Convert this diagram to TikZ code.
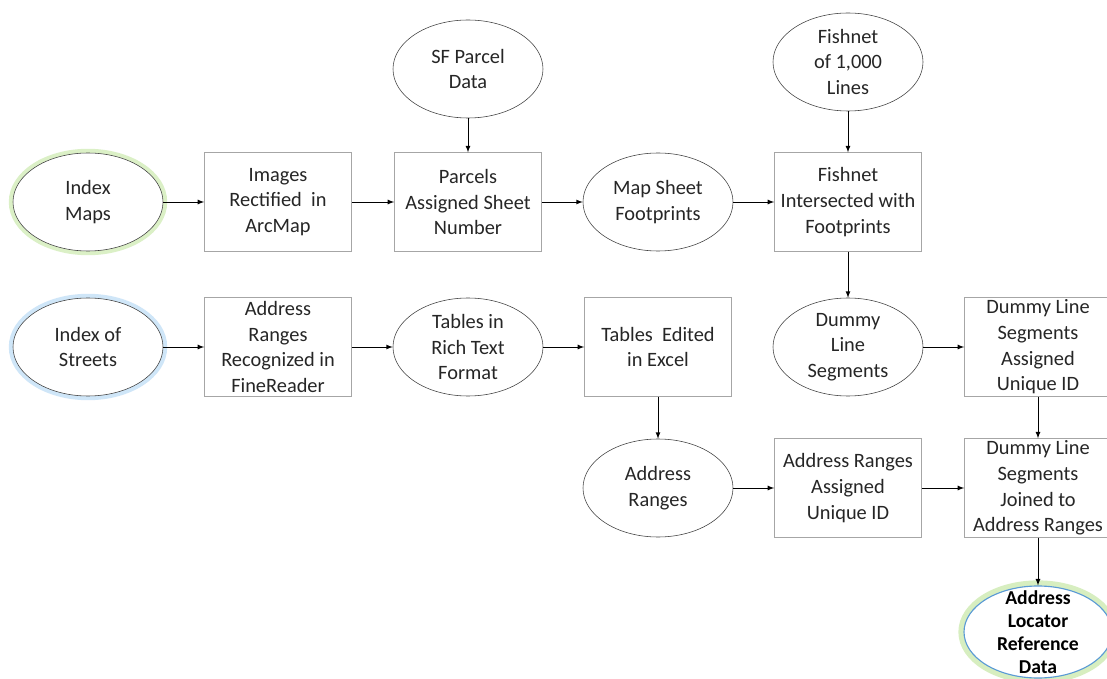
\documentclass[tikz,border=0pt]{standalone}
\usepackage{fontspec}
\setmainfont{Carlito}
\usetikzlibrary{arrows, shapes, positioning}

\definecolor{glowgreen}{RGB}{176,222,130}
\definecolor{glowblue}{RGB}{150,200,240}
\definecolor{locblue}{RGB}{91,155,213}

\begin{document}
\begin{tikzpicture}[node distance=4.75cm,
        box/.style={draw=black!35, rectangle, minimum width=3.68cm, minimum height=2.47cm, inner sep=1pt, align=center, text=black!85, font=\fontsize{14.5}{18.3}\selectfont},
        blob/.style={draw=black!75, fill=white, ellipse, minimum width=3.75cm, minimum height=2.45cm, inner sep=0pt, align=center, text=black!85, font=\fontsize{14.5}{18.3}\selectfont},
        greenglow/.style={preaction={draw=glowgreen, line width=6pt, opacity=0.45}},
        blueglow/.style={preaction={draw=glowblue, line width=6pt, opacity=0.45}},
        flow/.style={-latex, line width=0.6pt}]
        \path[use as bounding box, fill=white] (-2.2,5.05) rectangle (25.475,-11.925);

        % first chain
        \node[blob, greenglow] (IM) {Index\\Maps};
        \node[box, right of=IM] (IR) {Images\\Rectified\ \ in\\ArcMap};
        \node[box, right of=IR] (PA) {Parcels\\Assigned Sheet\\Number};
        \node[blob, right of=PA] (MS) {Map Sheet\\Footprints};
        \node[box, right of=MS] (FI) {Fishnet\\Intersected with\\Footprints};
        \node[blob, above of=PA, node distance=3.325cm] (SF) {SF Parcel\\Data};
        \node[blob, above of=FI, node distance=3.5cm] (FN) {Fishnet\\of 1,000\\Lines};

        % second chain
        \node[blob, blueglow, below of=IM, node distance=3.625cm] (IS) {Index of\\Streets};
        \node[box, right of=IS] (AR) {Address\\Ranges\\Recognized in\\FineReader};
        \node[blob, right of=AR] (TR) {Tables in\\Rich Text\\Format};
        \node[box, right of=TR] (TE) {Tables\ \ Edited\\in Excel};
        \node[blob, right of=TE] (DL) {Dummy\\Line\\Segments};
        \node[box, right of=DL] (DA) {Dummy Line\\Segments\\Assigned\\Unique ID};

        % joining
        \node[blob, below of=TE, node distance=3.525cm] (AD) {Address\\Ranges};
        \node[box, right of=AD] (AU) {Address Ranges\\Assigned\\Unique ID};
        \node[box, right of=AU] (DJ) {Dummy Line\\Segments\\Joined to\\Address Ranges};
        \node[ellipse, draw=locblue, fill=white, line width=0.8pt, minimum width=3.7cm, minimum height=2.3cm, preaction={draw=glowgreen, line width=8pt, opacity=0.5}, below of=DJ, node distance=3.6cm] (AL) {};
        \node[align=center, font=\bfseries\fontsize{14}{16.4}\selectfont] (ALtext) at (AL) {Address\\Locator\\Reference\\Data};

        \path[flow] (IM) edge (IR);
        \path[flow] (IR) edge (PA);
        \path[flow] (PA) edge (MS);
        \path[flow] (MS) edge (FI);
        \path[flow] (SF) edge (PA);
        \path[flow] (FN) edge (FI);
        \path[flow] (FI) edge (DL);
        \path[flow] (IS) edge (AR);
        \path[flow] (AR) edge (TR);
        \path[flow] (TR) edge (TE);
        \path[flow] (DL) edge (DA);
        \path[flow] (TE) edge (AD);
        \path[flow] (DA) edge (DJ);
        \path[flow] (AD) edge (AU);
        \path[flow] (AU) edge (DJ);
        \path[flow] (DJ) edge (AL);
    \end{tikzpicture}
\end{document}
